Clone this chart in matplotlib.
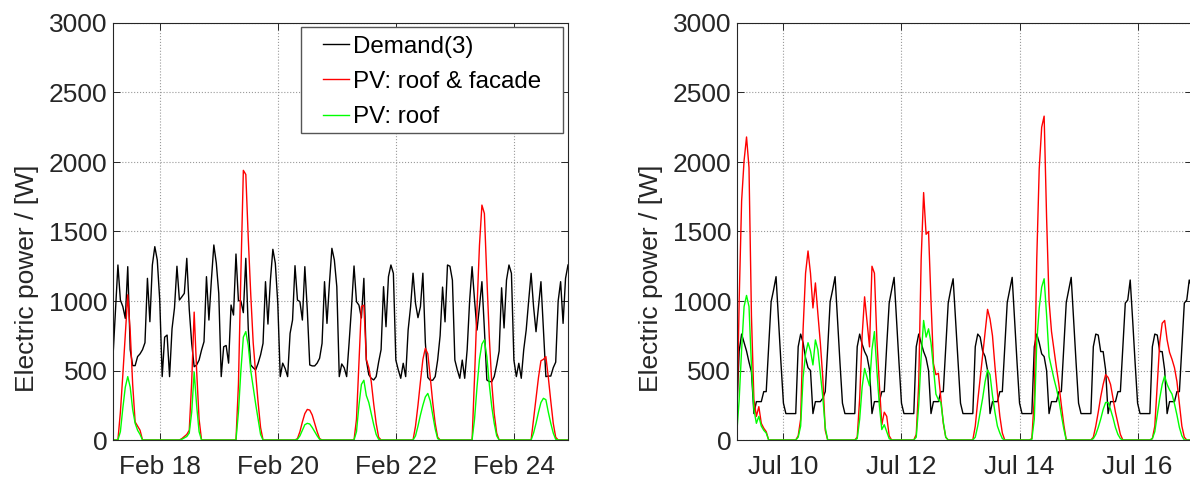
import numpy as np
import pandas as pd
import matplotlib
matplotlib.use("Agg")
import matplotlib.pyplot as plt
from matplotlib.patches import Rectangle

plt.rcParams['font.family'] = ['Liberation Sans', 'DejaVu Sans']

# ---------------- Winter week (hourly, Feb 17 05:00 -> Feb 24 22:00) ----------------
winter_start = '2016-02-17 05:00'
feb17_demand = [600, 930, 1259, 1007, 960, 875, 1247, 650, 535, 535, 600, 620, 650, 700, 1163, 851, 1259, 1391, 1295]
feb18_demand = [1007, 456, 740, 755, 456, 800, 950, 1250, 1007, 1030, 1055, 1307, 940, 695, 527, 540, 575, 647, 707, 1175, 863, 1150, 1403, 1273]
feb19_demand = [1055, 456, 671, 680, 553, 971, 899, 1338, 1002, 1000, 916, 1307, 800, 540, 520, 504, 552, 612, 695, 1139, 834, 1150, 1372, 1271]
feb20_demand = [983, 456, 553, 514, 456, 767, 863, 1254, 1007, 995, 863, 1247, 935, 540, 533, 533, 553, 588, 695, 1139, 839, 1127, 1379, 1295]
feb21_demand = [1103, 456, 547, 520, 456, 700, 960, 1252, 995, 970, 878, 1163, 575, 470, 444, 432, 456, 560, 650, 1103, 815, 1175, 1259, 1199]
feb22_demand = [575, 504, 444, 552, 456, 791, 959, 1200, 983, 880, 959, 1200, 700, 450, 430, 430, 456, 575, 750, 1100, 850, 1259, 1250, 1150]
feb23_demand = [575, 504, 444, 575, 444, 650, 1000, 1247, 1007, 791, 959, 1139, 800, 432, 420, 420, 456, 540, 640, 1095, 806, 1151, 1259, 1199]
feb24_demand = [575, 456, 552, 444, 650, 791, 1000, 1199, 959, 779, 959, 1139, 800, 456, 460, 460, 520, 560, 1000, 1139, 839, 1163, 1259]

feb17_pv_all = [0, 0, 0, 200, 470, 760, 1045, 780, 400, 130, 100, 70, 0, 0, 0, 0, 0, 0, 0]
feb18_pv_all = [0, 0, 0, 0, 0, 0, 0, 0, 0, 10, 25, 40, 70, 420, 920, 500, 150, 0, 0, 0, 0, 0, 0, 0]
feb19_pv_all = [0, 0, 0, 0, 0, 0, 0, 0, 400, 1200, 1940, 1910, 1450, 1050, 700, 480, 270, 90, 0, 0, 0, 0, 0, 0]
feb20_pv_all = [0, 0, 0, 0, 0, 0, 0, 0, 10, 60, 130, 190, 220, 215, 180, 120, 60, 10, 0, 0, 0, 0, 0, 0]
feb21_pv_all = [0, 0, 0, 0, 0, 0, 0, 0, 150, 550, 960, 970, 580, 520, 420, 260, 120, 20, 0, 0, 0, 0, 0, 0]
feb22_pv_all = [0, 0, 0, 0, 0, 0, 0, 0, 100, 250, 420, 580, 660, 620, 450, 270, 120, 20, 0, 0, 0, 0, 0, 0]
feb23_pv_all = [0, 0, 0, 0, 0, 0, 0, 0, 450, 950, 1400, 1690, 1630, 1170, 740, 410, 190, 50, 0, 0, 0, 0, 0, 0]
feb24_pv_all = [0, 0, 0, 0, 0, 0, 0, 0, 150, 300, 450, 570, 580, 600, 450, 280, 120, 20, 0, 0, 0, 0, 0]

feb17_pv_roof = [0, 0, 0, 60, 230, 380, 456, 380, 220, 120, 70, 40, 0, 0, 0, 0, 0, 0, 0]
feb18_pv_roof = [0, 0, 0, 0, 0, 0, 0, 0, 0, 5, 15, 25, 50, 200, 490, 250, 60, 0, 0, 0, 0, 0, 0, 0]
feb19_pv_roof = [0, 0, 0, 0, 0, 0, 0, 0, 200, 500, 740, 780, 680, 500, 380, 260, 150, 40, 0, 0, 0, 0, 0, 0]
feb20_pv_roof = [0, 0, 0, 0, 0, 0, 0, 0, 5, 30, 70, 110, 120, 115, 90, 60, 30, 5, 0, 0, 0, 0, 0, 0]
feb21_pv_roof = [0, 0, 0, 0, 0, 0, 0, 0, 60, 250, 400, 430, 320, 270, 190, 110, 40, 5, 0, 0, 0, 0, 0, 0]
feb22_pv_roof = [0, 0, 0, 0, 0, 0, 0, 0, 30, 100, 180, 250, 310, 335, 280, 180, 80, 10, 0, 0, 0, 0, 0, 0]
feb23_pv_roof = [0, 0, 0, 0, 0, 0, 0, 0, 150, 380, 580, 690, 720, 600, 400, 240, 120, 30, 0, 0, 0, 0, 0, 0]
feb24_pv_roof = [0, 0, 0, 0, 0, 0, 0, 0, 50, 120, 200, 270, 300, 290, 200, 120, 50, 5, 0, 0, 0, 0, 0]

winter_ticks = ['2016-02-18', '2016-02-20', '2016-02-22', '2016-02-24']
winter_tick_labels = ['Feb 18', 'Feb 20', 'Feb 22', 'Feb 24']

# ---------------- Summer week (hourly, Jul 9 05:00 -> Jul 16 22:00) ----------------
summer_start = '2016-07-09 05:00'
jul09_demand = [190, 640, 762, 700, 640, 560, 490, 190, 276, 276, 276, 348, 348, 670, 995, 1080, 1175, 860, 553]
jul10_demand = [265, 190, 190, 190, 190, 190, 671, 762, 700, 590, 520, 500, 190, 276, 276, 276, 300, 348, 660, 995, 1080, 1175, 860, 553]
jul11_demand = [265, 190, 190, 190, 190, 190, 671, 762, 690, 636, 600, 505, 190, 276, 276, 276, 348, 348, 680, 985, 1080, 1170, 860, 553]
jul12_demand = [265, 190, 190, 190, 190, 190, 671, 762, 700, 636, 590, 500, 190, 276, 276, 276, 348, 348, 670, 985, 1080, 1160, 860, 553]
jul13_demand = [265, 190, 190, 190, 190, 190, 671, 762, 740, 640, 600, 500, 190, 276, 276, 276, 348, 348, 670, 990, 1080, 1170, 860, 553]
jul14_demand = [265, 190, 190, 190, 190, 190, 671, 762, 700, 620, 600, 500, 190, 276, 276, 276, 348, 348, 670, 990, 1080, 1170, 860, 553]
jul15_demand = [265, 190, 190, 190, 190, 190, 671, 762, 755, 636, 636, 504, 190, 276, 276, 276, 348, 348, 670, 985, 1007, 1151, 860, 553]
jul16_demand = [265, 190, 190, 190, 190, 190, 671, 762, 755, 636, 636, 504, 190, 276, 276, 276, 348, 348, 670, 985, 1007, 1151, 1100]

jul09_pv_all = [40, 1000, 1720, 2010, 2180, 1960, 890, 290, 170, 240, 120, 85, 60, 0, 0, 0, 0, 0, 0]
jul10_pv_all = [0, 0, 0, 0, 0, 0, 30, 150, 800, 1200, 1360, 1200, 950, 1130, 910, 700, 450, 70, 0, 0, 0, 0, 0, 0]
jul11_pv_all = [0, 0, 0, 0, 0, 0, 20, 300, 750, 1030, 850, 670, 1250, 1200, 720, 400, 110, 200, 170, 30, 0, 0, 0, 0]
jul12_pv_all = [0, 0, 0, 0, 0, 0, 40, 400, 1300, 1780, 1480, 1500, 1000, 550, 470, 480, 300, 120, 20, 0, 0, 0, 0, 0]
jul13_pv_all = [0, 0, 0, 0, 0, 0, 100, 280, 445, 610, 775, 940, 870, 750, 530, 340, 170, 50, 0, 0, 0, 0, 0, 0]
jul14_pv_all = [0, 0, 0, 0, 0, 10, 300, 1300, 1950, 2250, 2330, 1600, 1000, 780, 650, 520, 400, 250, 110, 0, 0, 0, 0, 0]
jul15_pv_all = [0, 0, 0, 0, 0, 0, 20, 100, 200, 310, 400, 470, 450, 400, 300, 200, 120, 40, 0, 0, 0, 0, 0, 0]
jul16_pv_all = [0, 0, 0, 0, 0, 0, 10, 100, 400, 700, 840, 860, 720, 630, 580, 520, 420, 260, 100, 20, 0, 0, 0]

jul09_pv_roof = [40, 290, 650, 960, 1040, 960, 530, 220, 120, 170, 100, 70, 50, 0, 0, 0, 0, 0, 0]
jul10_pv_roof = [0, 0, 0, 0, 0, 0, 20, 100, 450, 620, 700, 640, 540, 720, 650, 480, 310, 90, 0, 0, 0, 0, 0, 0]
jul11_pv_roof = [0, 0, 0, 0, 0, 0, 10, 150, 380, 515, 450, 390, 650, 780, 500, 250, 75, 110, 60, 10, 0, 0, 0, 0]
jul12_pv_roof = [0, 0, 0, 0, 0, 0, 20, 250, 600, 860, 740, 800, 700, 520, 330, 290, 270, 130, 20, 0, 0, 0, 0, 0]
jul13_pv_roof = [0, 0, 0, 0, 0, 0, 20, 100, 200, 300, 420, 504, 470, 320, 200, 100, 50, 10, 0, 0, 0, 0, 0, 0]
jul14_pv_roof = [0, 0, 0, 0, 0, 5, 150, 700, 950, 1100, 1160, 900, 600, 520, 440, 370, 290, 180, 80, 0, 0, 0, 0, 0]
jul15_pv_roof = [0, 0, 0, 0, 0, 0, 10, 40, 90, 150, 220, 270, 270, 220, 160, 90, 40, 10, 0, 0, 0, 0, 0, 0]
jul16_pv_roof = [0, 0, 0, 0, 0, 0, 10, 60, 180, 300, 400, 460, 400, 360, 330, 260, 180, 90, 30, 0, 0, 0, 0]

summer_ticks = ['2016-07-10', '2016-07-12', '2016-07-14', '2016-07-16']
summer_tick_labels = ['Jul 10', 'Jul 12', 'Jul 14', 'Jul 16']

series_labels = ['Demand(3)', 'PV: roof & facade', 'PV: roof']
y_ticks = [0, 500, 1000, 1500, 2000, 2500, 3000]
y_label = 'Electric power / [W]'

winter_demand = np.concatenate([feb17_demand, feb18_demand, feb19_demand, feb20_demand,
                                feb21_demand, feb22_demand, feb23_demand, feb24_demand])
winter_pv_all = np.concatenate([feb17_pv_all, feb18_pv_all, feb19_pv_all, feb20_pv_all,
                                feb21_pv_all, feb22_pv_all, feb23_pv_all, feb24_pv_all])
winter_pv_roof = np.concatenate([feb17_pv_roof, feb18_pv_roof, feb19_pv_roof, feb20_pv_roof,
                                 feb21_pv_roof, feb22_pv_roof, feb23_pv_roof, feb24_pv_roof])
summer_demand = np.concatenate([jul09_demand, jul10_demand, jul11_demand, jul12_demand,
                                jul13_demand, jul14_demand, jul15_demand, jul16_demand])
summer_pv_all = np.concatenate([jul09_pv_all, jul10_pv_all, jul11_pv_all, jul12_pv_all,
                                jul13_pv_all, jul14_pv_all, jul15_pv_all, jul16_pv_all])
summer_pv_roof = np.concatenate([jul09_pv_roof, jul10_pv_roof, jul11_pv_roof, jul12_pv_roof,
                                 jul13_pv_roof, jul14_pv_roof, jul15_pv_roof, jul16_pv_roof])

winter_time = pd.date_range(winter_start, periods=len(winter_demand), freq='h')
summer_time = pd.date_range(summer_start, periods=len(summer_demand), freq='h')

W, H = 1190, 486
fig = plt.figure(figsize=(W / 100, H / 100), dpi=100)
ax_l = fig.add_axes([113 / W, 46 / H, 455 / W, 417 / H])
ax_r = fig.add_axes([736.7 / W, 46 / H, 455 / W, 417 / H])

dark = '#262626'
panels = [
    (ax_l, winter_time, winter_demand, winter_pv_all, winter_pv_roof, winter_ticks, winter_tick_labels),
    (ax_r, summer_time, summer_demand, summer_pv_all, summer_pv_roof, summer_ticks, summer_tick_labels),
]
for i, (ax, t, dem, pva, pvr, ticks, tlabels) in enumerate(panels):
    ax.plot(t, dem, color='black', lw=1.0, label=series_labels[0])
    ax.plot(t, pva, color='#ff0000', lw=1.0, label=series_labels[1])
    ax.plot(t, pvr, color='#00ff00', lw=1.0, label=series_labels[2])
    ax.set_xlim(t[0], t[-1])
    ax.set_ylim(y_ticks[0], y_ticks[-1])
    ax.set_yticks(y_ticks)
    ax.set_xticks(pd.to_datetime(ticks))
    ax.set_xticklabels(tlabels)
    ax.set_axisbelow(True)
    ax.grid(True, linestyle=':', color='#9a9a9a', linewidth=0.8)
    ax.tick_params(direction='in', length=5, width=0.7, top=True, right=True,
                   labelsize=19, labelcolor=dark, color=dark)
    ax.tick_params(axis='x', pad=11)
    ax.tick_params(axis='y', pad=4)
    for s in ax.spines.values():
        s.set_color(dark)
        s.set_linewidth(0.8)
    ax.set_ylabel(y_label, fontsize=19, color=dark)
    ax.yaxis.set_label_coords(-0.163, 0.388)

# legend (left panel)
ax_l.add_patch(Rectangle((0.4132, 0.7362), 0.5758, 0.2542, transform=ax_l.transAxes,
                         facecolor='white', edgecolor='#555555', lw=1.0, zorder=4))
leg = ax_l.legend(loc='upper left', bbox_to_anchor=(0.4609, 0.970), frameon=False,
                  borderpad=0, borderaxespad=0, fontsize=17.4, handlelength=1.1,
                  handletextpad=0.16, labelspacing=0.55)
leg.set_zorder(5)

fig.savefig('out.png', dpi=100)
